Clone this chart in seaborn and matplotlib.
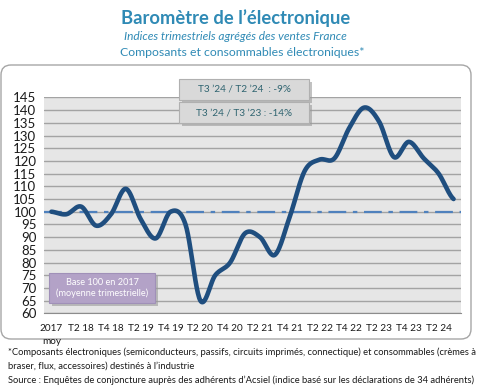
import numpy as np
import pandas as pd
import matplotlib
matplotlib.use("Agg")
import matplotlib.pyplot as plt
from matplotlib.patches import FancyBboxPatch, Rectangle
import seaborn as sns

# ---- data ----
categories = ["2017 moy",
              "T1 18", "T2 18", "T3 18", "T4 18",
              "T1 19", "T2 19", "T3 19", "T4 19",
              "T1 20", "T2 20", "T3 20", "T4 20",
              "T1 21", "T2 21", "T3 21", "T4 21",
              "T1 22", "T2 22", "T3 22", "T4 22",
              "T1 23", "T2 23", "T3 23", "T4 23",
              "T1 24", "T2 24", "T3 24"]
values = [100, 99, 102, 94.5, 99,
          109, 97, 89.5, 100,
          95, 65, 75, 80,
          91.5, 90, 83, 98,
          116, 120.5, 121, 133,
          141, 135.5, 121.5, 127.5,
          121, 115, 105]
tick_labels = ["2017\nmoy", "T2 18", "T4 18", "T2 19", "T4 19", "T2 20", "T4 20",
               "T2 21", "T4 21", "T2 22", "T4 22", "T2 23", "T4 23", "T2 24"]
y_ticks = list(range(60, 150, 5))
base_value = 100

title = "Baromètre de l\u2019électronique"
subtitle = "Indices trimestriels agrégés des ventes France"
subtitle2 = "Composants et consommables électroniques*"
box1 = "T3 \u201924 / T2 \u201924  : -9%"
box2 = "T3 \u201924 / T3 \u201923 : -14%"
base_note = "Base 100 en 2017\n(moyenne trimestrielle)"
foot_lines = ["*Composants électroniques (semiconducteurs, passifs, circuits imprimés, connectique) et consommables (crèmes à",
              "braser, flux, accessoires) destinés à l\u2019industrie",
              "Source : Enquêtes de conjoncture auprès des adhérents d\u2019Acsiel (indice basé sur les déclarations de 34 adhérents)"]

# ---- smooth curve (Excel-like smoothed line through the points) ----
def smooth(y, n=24):
    y = np.asarray(y, float)
    x = np.arange(len(y), dtype=float)
    xs, ys = [], []
    for i in range(len(y) - 1):
        p0 = y[i - 1] if i > 0 else y[i]
        p1, p2 = y[i], y[i + 1]
        p3 = y[i + 2] if i + 2 < len(y) else y[i + 1]
        c1 = p1 + (p2 - p0) / 6.0
        c2 = p2 - (p3 - p1) / 6.0
        t = np.linspace(0, 1, n, endpoint=False)
        b = (1 - t) ** 3 * p1 + 3 * (1 - t) ** 2 * t * c1 + 3 * (1 - t) * t ** 2 * c2 + t ** 3 * p2
        xs.append(x[i] + t)
        ys.append(b)
    xs.append([x[-1]]); ys.append([y[-1]])
    return np.concatenate(xs), np.concatenate(ys)

sx, sy = smooth(values)
df = pd.DataFrame({"x": sx, "y": sy})

sns.set_style("white")
plt.rcParams["font.family"] = ["Lato", "DejaVu Sans"]

W, H = 484, 392
fig = plt.figure(figsize=(W / 100, H / 100), dpi=100)
fig.patch.set_facecolor("white")

def inch(x, y):
    return x / 100.0, (H - y) / 100.0

# rounded frame
fx, fy = inch(1, 339)
frame = FancyBboxPatch((fx + 0.1, fy + 0.1), 4.70 - 0.2, 2.74 - 0.2,
                       boxstyle="round,pad=0.1", transform=fig.dpi_scale_trans,
                       facecolor="none", edgecolor="#a6a6a6", linewidth=1.0, zorder=-5)
fig.patches.append(frame)

left, right = 44 / W, 461 / W
bottom, top = 1 - 313.3 / H, 1 - 97.4 / H
ax = fig.add_axes([left, bottom, right - left, top - bottom])
ax.set_facecolor("#e6e6e6")

n = len(categories)
ax.set_xlim(-0.5, n - 0.5)
ax.set_ylim(60, 145)

for v in y_ticks:
    ax.axhline(v, color="#a3a3a3", lw=1.0, zorder=1)
ax.axhline(base_value, color="#4f81bd", lw=1.6, dashes=(8, 3, 2, 3), zorder=2)

sns.lineplot(data=df, x="x", y="y", ax=ax, color="#1f4e7f", linewidth=3.3,
             estimator=None, sort=False, zorder=3)

ax.set_xlabel("")
ax.set_ylabel("")
ax.set_yticks(y_ticks)
ax.set_yticklabels([str(v) for v in y_ticks], fontsize=9.5, color="#1a1a1a")
ax.tick_params(axis="y", length=4, color="#a3a3a3", pad=1.5)

ax.set_xticks(np.arange(0, n, 2))
ax.set_xticklabels(tick_labels, fontsize=7.2, color="#1a1a1a", linespacing=1.5)
ax.set_xticks(np.arange(-0.5, n, 1), minor=True)
ax.tick_params(axis="x", which="major", length=0, pad=8)
ax.tick_params(axis="x", which="minor", length=4, color="#8c8c8c")
for s in ["top", "right", "left"]:
    ax.spines[s].set_visible(False)
ax.spines["bottom"].set_color("#8c8c8c")

# titles
fig.text(0.487, 1 - 18 / H, title, ha="center", va="center", fontsize=13.2,
         fontweight="bold", color="#2f8ab5")
fig.text(0.487, 1 - 36 / H, subtitle, ha="center", va="center", fontsize=8.6,
         style="italic", color="#2f8ab5")
fig.text(0.5, 1 - 52 / H, subtitle2, ha="center", va="center", fontsize=8.8,
         color="#2f8ab5")

def shadow_box(x0, y0, x1, y1, fc, ec):
    a, b = inch(x0, y1)
    w, h = (x1 - x0) / 100, (y1 - y0) / 100
    sh = Rectangle((a + 0.03, b - 0.03), w, h, transform=fig.dpi_scale_trans,
                   facecolor="#9a9a9a", edgecolor="none", alpha=0.6, zorder=5)
    bx = Rectangle((a, b), w, h, transform=fig.dpi_scale_trans,
                   facecolor=fc, edgecolor=ec, linewidth=0.8, zorder=6)
    fig.patches.extend([sh, bx])

shadow_box(179, 79, 309, 100, "#d9d9d9", "#b0b0b0")
shadow_box(179, 102, 309, 123, "#d9d9d9", "#b0b0b0")
fig.text(244 / W, 1 - 89.5 / H, box1, ha="center", va="center", fontsize=7.2,
         color="#2f6470", zorder=7)
fig.text(244 / W, 1 - 112.5 / H, box2, ha="center", va="center", fontsize=7.2,
         color="#2f6470", zorder=7)

shadow_box(49, 273, 155, 303, "#b3a2c7", "#a090b8")
fig.text(102 / W, 1 - 288 / H, base_note, ha="center", va="center", fontsize=6.6,
         color="white", linespacing=1.3, zorder=7)

for yy, line in zip([352, 366, 380], foot_lines):
    fig.text(8 / W, 1 - yy / H, line, ha="left", va="center", fontsize=6.75,
             color="#1a1a1a")

fig.savefig("out.png", dpi=100)
